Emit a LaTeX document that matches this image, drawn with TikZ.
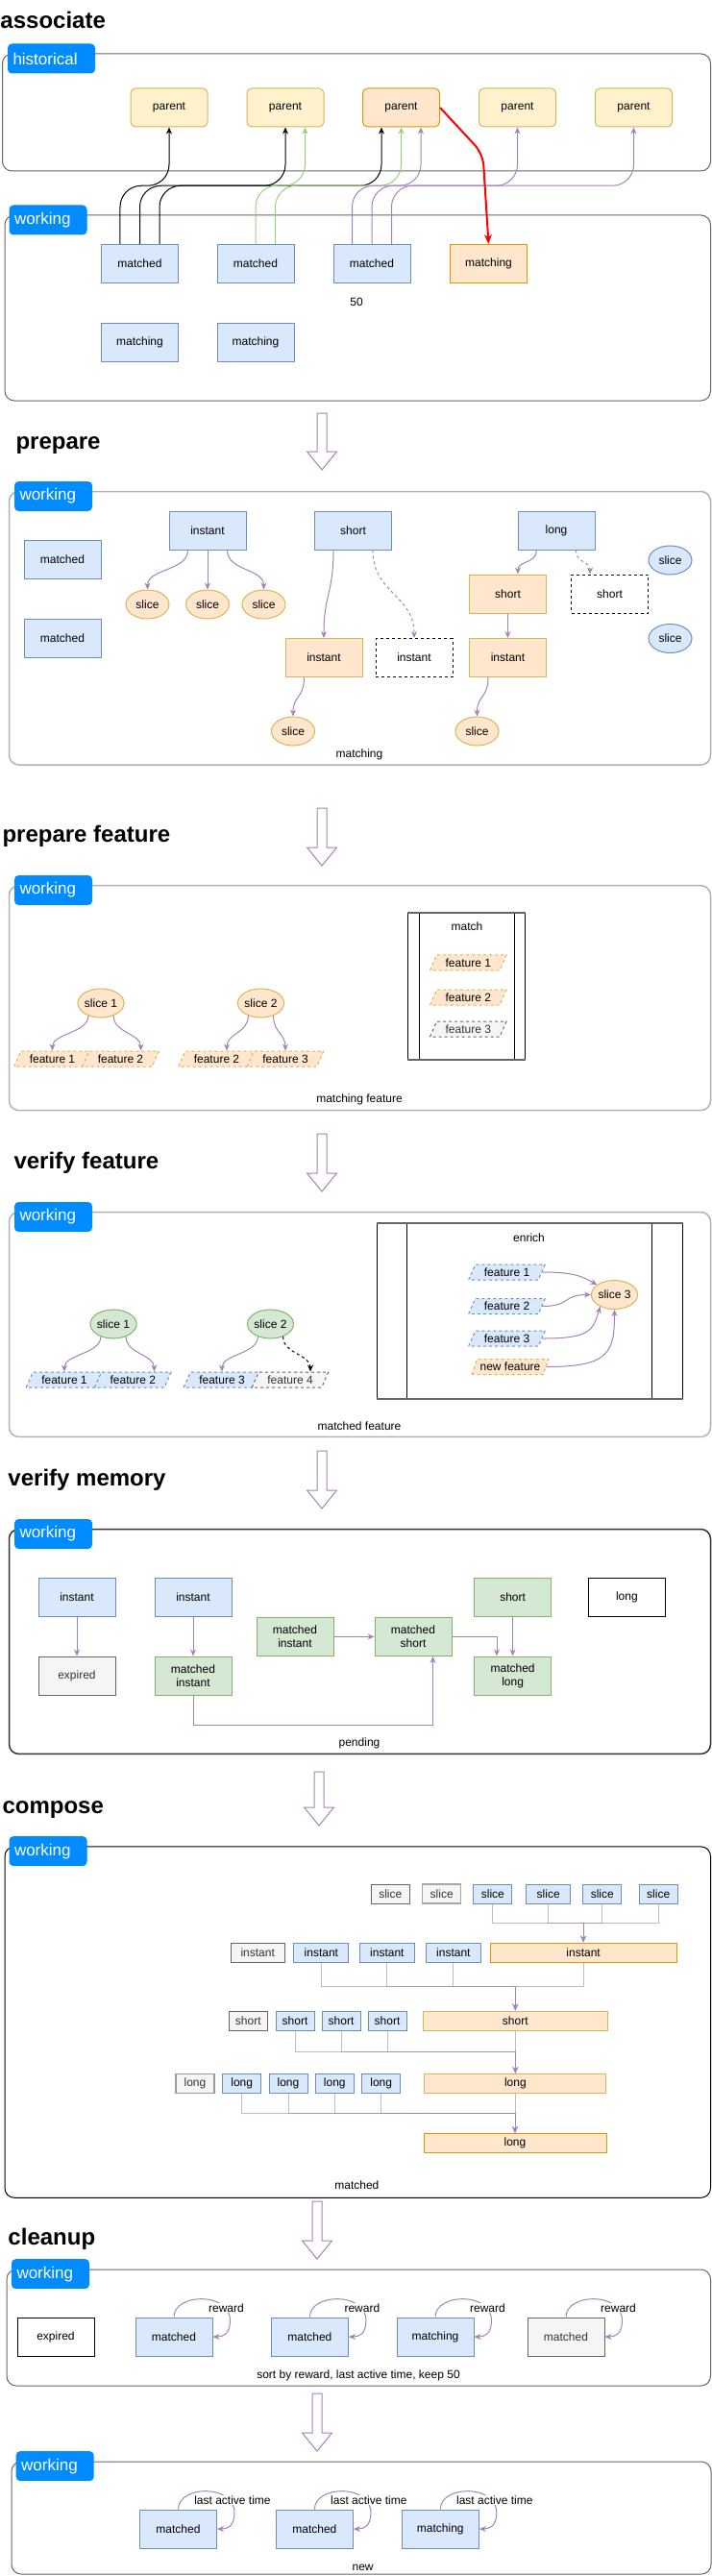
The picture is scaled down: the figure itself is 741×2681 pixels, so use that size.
\documentclass[tikz,border=0pt]{standalone}
\usepackage{fontspec}
\setmainfont{Liberation Sans}
\usetikzlibrary{arrows.meta,calc,shapes.geometric}
\definecolor{bluefill}{HTML}{DAE8FC}
\definecolor{bluedraw}{HTML}{6C8EBF}
\definecolor{yellowfill}{HTML}{FFF2CC}
\definecolor{yellowdraw}{HTML}{D6B656}
\definecolor{orangefill}{HTML}{FFE6CC}
\definecolor{orangedraw}{HTML}{D79B00}
\definecolor{greenfill}{HTML}{D5E8D4}
\definecolor{greendraw}{HTML}{82B366}
\definecolor{grayfill}{HTML}{F5F5F5}
\definecolor{graydraw}{HTML}{666666}
\definecolor{graytext}{HTML}{333333}
\definecolor{flow}{HTML}{A680B8}
\definecolor{greenflow}{HTML}{97D077}
\definecolor{tabblue}{HTML}{008CFF}
\begin{document}
\begin{tikzpicture}[x=1pt, y=-1pt, line width=1pt, font=\fontsize{12}{14}\selectfont,
 heading/.style={anchor=base west, inner sep=0, font=\fontsize{24}{28}\selectfont\bfseries},
 tabbox/.style={anchor=west, fill=tabblue, draw=tabblue, rounded corners=4, text=white, text width=70, align=left, inner xsep=5, minimum height=30, font=\fontsize{17}{20}\selectfont},
 panel/.style={draw=graydraw, rounded corners=10},
 cellbox/.style={draw, fill=white, minimum width=80, minimum height=40, inner sep=1},
 bluecell/.style={cellbox, fill=bluefill, draw=bluedraw},
 orangecell/.style={cellbox, fill=orangefill, draw=orangedraw},
 greencell/.style={cellbox, fill=greenfill, draw=greendraw, align=center},
 graycell/.style={cellbox, fill=grayfill, draw=graydraw, text=graytext},
 ghostcell/.style={cellbox, draw=black, dash pattern=on 3pt off 3pt},
 parentcell/.style={cellbox, rounded corners=5, fill=yellowfill, draw=yellowdraw},
 sliceoval/.style={ellipse, draw=yellowdraw, fill=orangefill, minimum width=45, minimum height=30, inner sep=0},
 featbox/.style={trapezium, trapezium left angle=60, trapezium right angle=120, trapezium stretches=true, minimum width=80, minimum height=16, inner sep=0, fill=orangefill, draw=yellowdraw, dash pattern=on 3pt off 3pt},
 bluefeat/.style={featbox, fill=bluefill, draw=bluedraw},
 grayfeat/.style={featbox, fill=grayfill, draw=graydraw, text=graytext},
 chip/.style={draw, minimum width=40, minimum height=20, inner sep=0},
 bluechip/.style={chip, fill=bluefill, draw=bluedraw},
 graychip/.style={chip, fill=grayfill, draw=graydraw, text=graytext},
 orangechip/.style={chip, fill=orangefill, draw=orangedraw},
 tipped/.style={-{Stealth[length=7pt, width=6pt]}},
 elbow/.style={to path={|- ($(\tikztostart)!0.5!(\tikztotarget)$) -| (\tikztotarget)}},
 link/.style={rounded corners=22, to path={let \p1=(\tikztostart), \p2=(\tikztotarget) in -- (\x1,{0.5*\y1+0.5*\y2}) -- (\x2,{0.5*\y1+0.5*\y2}) -- (\tikztotarget)}},
 scurve/.style={to path={.. controls +(0,#1) and +(0,-#1) .. (\tikztotarget)}},
 selfloop/.style={to path={.. controls +(0,-25) and +(0,-30) .. ($(\tikztotarget)+(18,-17)$) .. controls +(0,15) and +(10,0) .. (\tikztotarget)}},
 mergeline/.style={draw=flow, opacity=0.6, tipped, elbow},
 edgelabel/.style={fill=white, inner sep=1},
 bigarrow/.style={draw=flow, fill=white}]
 \useasboundingbox (0,0) rectangle (741,2681);
 \foreach \x/\y/\l in {335/430/59, 335/841/60, 335/1180/60, 335/1510/60, 332/1844/56, 330/2291/60, 330/2491/60}
  \draw[bigarrow] (\x-5,\y) -- (\x+5,\y) -- (\x+5,\y+\l-19) -- (\x+15.5,\y+\l-19) -- (\x,\y+\l) -- (\x-15.5,\y+\l-19) -- (\x-5,\y+\l-19) -- cycle;

 \node[heading] (tAssoc) at (0,30) {associate};
 \draw[panel] (2.5,56) rectangle (739.5,178);
 \node[tabbox, text width=80] (tabHist) at (8,61) {historical};
 \node[parentcell] (p1) at (176,112) {parent};
 \node[parentcell] (p2) at (297,112) {parent};
 \node[parentcell, fill=orangefill, draw=orangedraw] (p3) at (417.5,112) {parent};
 \node[parentcell] (p4) at (538.5,112) {parent};
 \node[parentcell] (p5) at (659.5,112) {parent};
 \draw[panel] (5,224) rectangle (739.5,417);
 \node[tabbox] (tabWork1) at (9.5,229) {working};
 \node[bluecell] (m1) at (145.5,274.5) {matched};
 \node[bluecell] (m2) at (266,274.5) {matched};
 \node[bluecell] (m3) at (387,274.5) {matched};
 \node[orangecell] (mo) at (508.5,274.5) {matching};
 \node[bluecell] (m4) at (145.5,356) {matching};
 \node[bluecell] (m5) at (266,356) {matching};
 \node (n50) at (371,314) {50};
 \draw[link, tipped] (m1.135) to (p1.south);
 \draw[link, tipped] (m1.north) to (p2.south);
 \draw[link, tipped] (m1.45) to (p3.225);
 \draw[link, tipped, greenflow] (m2.north) to (p2.315);
 \draw[link, tipped, greenflow] (m2.45) to (p3.south);
 \draw[link, tipped, flow] (m3.135) to (p3.315);
 \draw[link, tipped, flow] (m3.north) to (p4.south);
 \draw[link, tipped, flow] (m3.45) to (p5.south);
 \draw[red, line width=2, rounded corners=12, -{Stealth[length=10pt, width=8pt]}] (p3.east) -- ($(mo.north)+(-6,-94)$) -- (mo.north);

 \node[heading] (tPrep) at (16,467) {prepare};
 \draw[panel, draw=gray!60, line width=1.5] (9.5,511.5) rectangle (739.5,796);
 \node[tabbox] (tabWork2) at (15,516.5) {working};
 \node[bluecell] (prM1) at (65,582.5) {matched};
 \node[bluecell] (prM2) at (65,664) {matched};
 \node[bluecell] (prI) at (216,552) {instant};
 \node[bluecell] (prS) at (367.5,552) {short};
 \node[bluecell] (prL) at (579,552) {long};
 \node[sliceoval] (prS1) at (153.5,629) {slice};
 \node[sliceoval] (prS2) at (216,629) {slice};
 \node[sliceoval] (prS3) at (274.5,629) {slice};
 \node[sliceoval, fill=bluefill, draw=bluedraw] (prB1) at (697.5,583) {slice};
 \node[sliceoval, fill=bluefill, draw=bluedraw] (prB2) at (697.5,664.5) {slice};
 \node[orangecell, draw=yellowdraw] (prO1) at (528.5,618) {short};
 \node[ghostcell] (prD1) at (634.5,618) {short};
 \node[orangecell, draw=yellowdraw] (prO2) at (337,684.5) {instant};
 \node[ghostcell] (prD2) at (431,684.5) {instant};
 \node[orangecell, draw=yellowdraw] (prO3) at (528.5,684.5) {instant};
 \node[sliceoval] (prS4) at (305,761) {slice};
 \node[sliceoval] (prS5) at (496.5,761) {slice};
 \node (lPrep) at (374,785) {matching};
 \draw[flow, tipped, scurve=22] (prI.225) to (prS1.north);
 \draw[flow, tipped] (prI.south) -- (prS2.north);
 \draw[flow, tipped, scurve=22] (prI.315) to (prS3.north);
 \draw[flow, tipped, scurve=45] (prS.225) to (prO2.north);
 \draw[flow, tipped, scurve=45, dash pattern=on 3pt off 3pt] (prS.315) to (prD2.north);
 \draw[flow, tipped, scurve=14] (prL.225) to (prO1.63);
 \draw[flow, tipped, scurve=14, dash pattern=on 3pt off 3pt] (prL.315) to (prD1.135);
 \draw[flow, tipped] (prO1.south) -- (prO3.north);
 \draw[flow, tipped, scurve=22] (prO2.225) to (prS4.north);
 \draw[flow, tipped, scurve=22] (prO3.225) to (prS5.north);

 \node[heading] (tPrepF) at (2,876) {prepare feature};
 \draw[panel, draw=gray!60, line width=1.5] (9.5,921.7) rectangle (739.5,1155.6);
 \node[tabbox] (tabWork3) at (15,926.5) {working};
 \node[sliceoval] (fs1) at (105,1044) {slice 1};
 \node[sliceoval] (fs2) at (271.5,1044) {slice 2};
 \node[featbox] (ff1) at (54.5,1102) {feature 1};
 \node[featbox] (ff2) at (125.5,1102) {feature 2};
 \node[featbox] (ff3) at (225.5,1102) {feature 2};
 \node[featbox] (ff4) at (297,1102) {feature 3};
 \draw[flow, tipped, scurve=18] (fs1.225) to (ff1.north);
 \draw[flow, tipped, scurve=18] (fs1.315) to (ff2.22);
 \draw[flow, tipped, scurve=18] (fs2.225) to (ff3.39);
 \draw[flow, tipped, scurve=18] (fs2.315) to (ff4.north);
 \node[draw, minimum width=122, minimum height=152, inner sep=0] (matchBox) at (485.6,1026.2) {};
 \draw ([xshift=12]matchBox.north west) -- ([xshift=12]matchBox.south west);
 \draw ([xshift=-12]matchBox.north east) -- ([xshift=-12]matchBox.south east);
 \draw[graydraw, line width=2] (matchBox.north west) -- (matchBox.north east) (matchBox.south west) -- (matchBox.south east);
 \node (tMatch) at (486,964.4) {match};
 \node[featbox] (mf1) at (487.3,1001.8) {feature 1};
 \node[featbox] (mf2) at (487.3,1038) {feature 2};
 \node[grayfeat] (mf3) at (487.3,1071) {feature 3};
 \node (lPrepF) at (374,1144.4) {matching feature};

 \node[heading] (tVerF) at (14,1216) {verify feature};
 \draw[panel, draw=gray!60, line width=1.5] (9.5,1261.5) rectangle (739.5,1495.4);
 \node[tabbox] (tabWork4) at (15,1266.5) {working};
 \node[sliceoval, fill=greenfill, draw=greendraw] (vs1) at (118,1378) {slice 1};
 \node[sliceoval, fill=greenfill, draw=greendraw] (vs2) at (281.5,1378) {slice 2};
 \node[bluefeat] (vf1) at (67,1436) {feature 1};
 \node[bluefeat] (vf2) at (138.3,1436) {feature 2};
 \node[bluefeat] (vf3) at (231,1436) {feature 3};
 \node[grayfeat] (vf4) at (302,1436) {feature 4};
 \draw[flow, tipped, scurve=18] (vs1.225) to (vf1.north);
 \draw[flow, tipped, scurve=18] (vs1.315) to (vf2.21);
 \draw[flow, tipped, scurve=18] (vs2.225) to (vf3.north);
 \draw[tipped, scurve=18, dash pattern=on 3pt off 3pt] (vs2.315) to (vf4.22);
 \node[draw, minimum width=318, minimum height=182, inner sep=0] (enrichBox) at (551,1364) {};
 \draw ([xshift=32]enrichBox.north west) -- ([xshift=32]enrichBox.south west);
 \draw ([xshift=-32]enrichBox.north east) -- ([xshift=-32]enrichBox.south east);
 \draw[graydraw, line width=2] (enrichBox.north west) -- (enrichBox.north east) (enrichBox.south west) -- (enrichBox.south east);
 \node (tEnrich) at (550.5,1288) {enrich};
 \node[bluefeat] (ef1) at (527.5,1324) {feature 1};
 \node[bluefeat] (ef2) at (527.5,1359.5) {feature 2};
 \node[bluefeat] (ef3) at (527.5,1393) {feature 3};
 \node[featbox] (ef4) at (531,1422.5) {new feature};
 \node[sliceoval] (es3) at (639.5,1347.5) {slice 3};
 \draw[flow, tipped] (ef1.east) .. controls +(35,0) and +(-15,-8) .. (es3.150);
 \draw[flow, tipped] (ef2.east) .. controls +(30,0) and +(-30,0) .. (es3.west);
 \draw[flow, tipped] (ef3.east) .. controls +(50,0) and +(-8,25) .. (es3.220);
 \draw[flow, tipped] (ef4.east) .. controls +(65,0) and +(0,45) .. (es3.south);
 \node (lVerF) at (374,1484) {matched feature};

 \node[heading] (tVerM) at (8,1546) {verify memory};
 \draw[panel, draw=graytext, line width=1.5] (9.5,1591.5) rectangle (739.5,1825.4);
 \node[tabbox] (tabWork5) at (15,1596.5) {working};
 \node[bluecell] (vmI1) at (80,1662.5) {instant};
 \node[bluecell] (vmI2) at (201,1662.5) {instant};
 \node[graycell] (vmE) at (80,1744) {expired};
 \node[greencell] (vmMI) at (201,1744) {matched\\instant};
 \node[greencell] (vmMI2) at (307,1703.4) {matched\\instant};
 \node[greencell] (vmMS) at (430,1703.4) {matched\\short};
 \node[greencell] (vmS) at (533.6,1662.5) {short};
 \node[cellbox] (vmL) at (652.4,1662.5) {long};
 \node[greencell] (vmML) at (533.6,1744) {matched\\long};
 \draw[flow, tipped] (vmI1) -- (vmE);
 \draw[flow, tipped] (vmI2) -- (vmMI);
 \draw[flow, tipped] (vmMI2) -- (vmMS);
 \draw[flow, tipped] (vmS) -- (vmML);
 \draw[flow, tipped] (vmMS.east) -| (vmML.129);
 \draw[flow, tipped] (vmMI.south) -- ++(0,31) -| (vmMS.315);
 \node (lVerM) at (374,1814) {pending};

 \node[heading] (tComp) at (2,1887) {compose};
 \draw[panel, draw=black] (5,1921.9) rectangle (739.5,2287.3);
 \node[tabbox] (tabWork6) at (9.5,1926.6) {working};
 \node[graychip] (cs1) at (406.3,1971) {slice};
 \node[graychip, draw=gray!70, line width=1.5] (cs2) at (459.7,1971) {slice};
 \node[bluechip] (cs3) at (512.9,1971) {slice};
 \node[bluechip, minimum width=46] (cs4) at (570.7,1971) {slice};
 \node[bluechip] (cs5) at (626.8,1971) {slice};
 \node[bluechip] (cs6) at (685.2,1971) {slice};
 \node[graychip, minimum width=56] (ci1) at (268.2,2032) {instant};
 \node[bluechip, minimum width=57] (ci2) at (334.4,2032) {instant};
 \node[bluechip, minimum width=57] (ci3) at (402.9,2032) {instant};
 \node[bluechip, minimum width=57] (ci4) at (471.9,2032) {instant};
 \node[orangechip, minimum width=194] (ci5) at (607.1,2032) {instant};
 \node[graychip] (ch1) at (258.3,2103) {short};
 \node[bluechip] (ch2) at (307,2103) {short};
 \node[bluechip] (ch3) at (355,2103) {short};
 \node[bluechip] (ch4) at (403,2103) {short};
 \node[orangechip, draw=yellowdraw, minimum width=192] (ch5) at (536.3,2103) {short};
 \node[graychip, draw=gray!80, line width=1.5] (cl1) at (203,2168.5) {long};
 \node[bluechip] (cl2) at (251.7,2168.5) {long};
 \node[bluechip] (cl3) at (300,2168.5) {long};
 \node[bluechip] (cl4) at (348.3,2168.5) {long};
 \node[bluechip] (cl5) at (396.7,2168.5) {long};
 \node[orangechip, draw=yellowdraw, minimum width=189] (cl6) at (536.4,2168.5) {long};
 \node[orangechip, minimum width=190] (cf) at (536,2230.5) {long};
 \foreach \n in {cs3,cs4,cs5,cs6} \draw[mergeline] (\n.south) to (ci5.north);
 \foreach \n in {ci2,ci3,ci4,ci5} \draw[mergeline] (\n.south) to (ch5.north);
 \foreach \n in {ch2,ch3,ch4,ch5} \draw[mergeline] (\n.south) to (cl6.north);
 \foreach \n in {cl2,cl3,cl4,cl5,cl6} \draw[mergeline] (\n.south) to (cf.north);
 \node (lComp) at (371.4,2274) {matched};

 \node[heading] (tClean) at (8,2336) {cleanup};
 \draw[panel] (7,2362) rectangle (739.5,2483);
 \node[tabbox] (tabWork7) at (12,2366.6) {working};
 \node[cellbox] (clE) at (58,2432) {expired};
 \node[bluecell] (clM1) at (181,2432) {matched};
 \node[bluecell] (clM2) at (322.4,2432) {matched};
 \node[bluecell] (clM3) at (453,2432) {matching};
 \node[graycell] (clM4) at (589,2432) {matched};
 \foreach \n/\r in {clM1/rw1, clM2/rw2, clM3/rw3, clM4/rw4} {
  \draw[flow, tipped, selfloop] (\n.north) to (\n.east);
  \node[edgelabel] (\r) at ($(\n.east)+(14,-30)$) {reward};
 }
 \node (lClean) at (373,2472) {sort by reward, last active time, keep 50};

 \draw[panel] (12,2562) rectangle (740,2679);
 \node[tabbox] (tabWork8) at (16.7,2566.6) {working};
 \node[bluecell] (nwM1) at (185.5,2632) {matched};
 \node[bluecell] (nwM2) at (327.4,2632) {matched};
 \node[bluecell] (nwM3) at (458.3,2632) {matching};
 \foreach \n/\r in {nwM1/lat1, nwM2/lat2, nwM3/lat3} {
  \draw[flow, tipped, selfloop] (\n.north) to (\n.east);
  \node[edgelabel] (\r) at ($(\n.east)+(16,-30)$) {last active time};
 }
 \node (lNew) at (377.6,2672) {new};
\end{tikzpicture}
\end{document}
